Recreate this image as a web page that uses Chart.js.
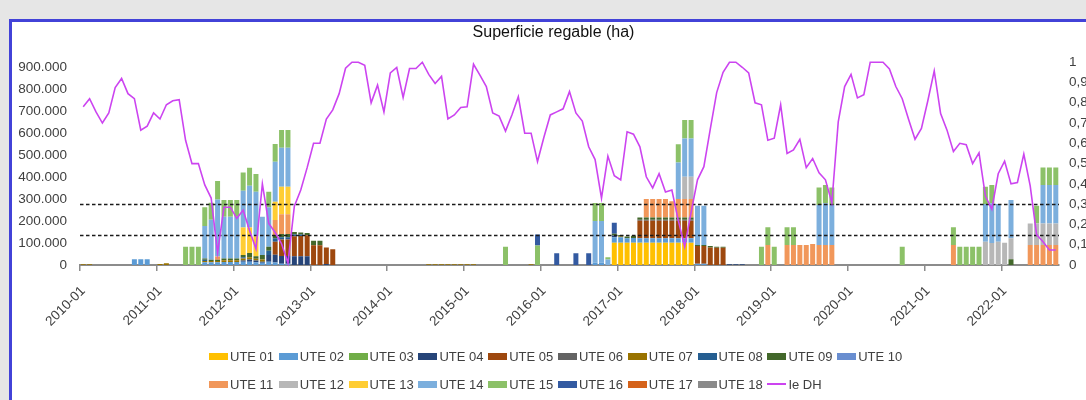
<!DOCTYPE html>
<html lang="es">
<head>
<meta charset="utf-8">
<title>Superficie regable (ha)</title>
<script src="https://cdn.jsdelivr.net/npm/chart.js@4.4.1/dist/chart.umd.min.js"></script>
<style>
  html, body { margin: 0; padding: 0; width: 1086px; height: 400px; overflow: hidden; background: #e6e6e6; font-family: "Liberation Sans", Arial, sans-serif; }
  #marco { position: absolute; left: 9px; top: 19px; width: 1120px; height: 420px; background: #fff; border-left: 3px solid #4242d8; border-top: 3px solid #4242d8; }
  #grafica { position: absolute; left: 0; top: 0; }
  #leyenda { position: absolute; left: 209px; top: 342px; width: 720px; font-size: 13px; color: #404040; }
  .fila { display: flex; height: 28px; align-items: center; }
  .item { flex: none; width: 69.8px; display: flex; align-items: center; white-space: nowrap; }
  .marca { flex: none; width: 19px; height: 7px; margin-right: 2px; }
  .marca.linea { height: 2px; }
</style>
</head>
<body>
<div id="marco"></div>
<canvas id="grafica" width="1107" height="400"></canvas>
<div id="leyenda"></div>
<script>
// Meses 2010-01 ... 2022-09
const anios = [2010, 2011, 2012, 2013, 2014, 2015, 2016, 2017, 2018, 2019, 2020, 2021, 2022];
const ultimoMes = 9;
const meses = [];
anios.forEach((a) => {
  for (let m = 1; m <= 12; m++) {
    if (a < 2022 || m <= ultimoMes) meses.push(a + "-" + String(m).padStart(2, "0"));
  }
});

// Superficie regable por UTE (miles de ha), una fila por año
const ute01 = [
  0,0,0,0,0,0,0,0,0,0,0,0, 0,0,0,0,0,0,0,0,0,0,0,0, 0,0,0,0,0,0,0,0,0,0,0,0,
  0,0,0,0,0,0,0,0,0,0,0,0, 0,0,0,0,0,0,0,0,0,0,0,0, 0,0,0,0,0,0,0,0,0,0,0,0,
  0,0,0,0,0,0,0,0,0,0,0,101,
  101,101,101,101,101,101,101,101,101,101,101,101,
  0,0,0,0,0,0,0,0,0,0,0,0, 0,0,0,0,0,0,0,0,0,0,0,0, 0,0,0,0,0,0,0,0,0,0,0,0,
  0,0,0,0,0,0,0,0,0,0,0,0, 0,0,0,0,0,0,0,0,0];
const ute02 = [
  0,0,0,0,0,0,0,0,26,26,26,0,
  0,0,0,0,0,0,0,12,12,12,14,14,
  14,15,15,12,10,15,11,6,6,0,0,0,
  0,0,0,0,0,0,0,0,0,0,0,0, 0,0,0,0,0,0,0,0,0,0,0,0, 0,0,0,0,0,0,0,0,0,0,0,0,
  0,0,0,0,0,0,0,0,10,10,0,25,
  25,20,22,20,20,20,20,20,20,20,20,20,
  6,6,0,0,0,0,0,0,0,0,0,0,
  0,0,0,0,0,0,0,0,0,0,0,0, 0,0,0,0,0,0,0,0,0,0,0,0, 0,0,0,0,0,0,0,0,0,0,0,0,
  0,0,0,0,0,0,0,0,0];
const ute03 = [
  0,0,0,0,0,0,0,0,0,0,0,0, 0,0,0,0,0,0,0,0,0,0,0,0, 0,0,0,0,0,0,0,0,0,0,0,0,
  0,0,0,0,0,0,0,0,0,0,0,0, 0,0,0,0,0,0,0,0,0,0,0,0, 0,0,0,0,0,0,0,0,0,0,0,0,
  0,0,0,0,0,0,0,0,0,0,0,0, 0,0,0,0,0,0,0,0,0,0,0,0, 0,0,0,0,0,0,0,0,0,0,0,0,
  0,0,0,0,0,0,0,0,0,0,0,0, 0,0,0,0,0,0,0,0,0,0,0,0, 0,0,0,0,0,0,0,0,0,0,0,0,
  0,0,0,0,0,0,0,0,0];
const ute04 = [
  0,0,0,0,0,0,0,0,0,0,0,0, 0,0,0,0,0,0,0,0,0,0,0,0,
  0,5,10,8,5,30,35,35,35,40,40,40,
  0,0,5,0,0,0,0,0,0,0,0,0,
  0,0,0,0,0,0,0,0,0,0,0,0, 0,0,0,0,0,0,0,0,0,0,0,0,
  0,0,0,0,0,0,0,0,0,0,0,8,
  0,0,0,0,0,0,0,0,0,0,0,0,
  0,0,0,0,0,3,3,3,0,0,0,0,
  0,0,0,0,0,0,0,0,0,0,0,0, 0,0,0,0,0,0,0,0,0,0,0,0, 0,0,0,0,0,0,0,0,0,0,0,0,
  0,0,0,0,0,0,0,0,0];
const ute05 = [
  0,0,0,0,0,0,0,0,0,0,0,0, 0,0,0,0,0,0,0,0,0,0,0,0,
  0,0,0,0,0,0,60,75,75,90,92,95,
  90,90,75,71,0,0,0,0,0,0,0,0,
  0,0,0,0,0,0,0,0,0,0,0,0, 0,0,0,0,0,0,0,0,0,0,0,0, 0,0,0,0,0,0,0,0,0,0,0,0,
  0,0,0,80,80,80,80,80,80,80,80,80,
  80,80,80,78,78,0,0,0,0,0,0,0,
  0,0,0,0,0,0,0,0,0,0,0,0, 0,0,0,0,0,0,0,0,0,0,0,0, 0,0,0,0,0,0,0,0,0,0,0,0,
  0,0,0,0,0,0,0,0,0];
const ute06 = [
  0,0,0,0,0,0,0,0,0,0,0,0, 0,0,0,0,0,0,0,0,0,0,0,0, 0,0,0,0,0,0,0,0,0,0,0,0,
  0,0,0,0,0,0,0,0,0,0,0,0, 0,0,0,0,0,0,0,0,0,0,0,0, 0,0,0,0,0,0,0,0,0,0,0,0,
  0,0,0,0,0,0,0,0,0,0,0,0,
  0,0,0,5,5,5,5,5,5,5,5,5,
  0,0,0,0,0,0,0,0,0,0,0,0, 0,0,0,0,0,0,0,0,0,0,0,0, 0,0,0,0,0,0,0,0,0,0,0,0,
  0,0,0,0,0,0,0,0,0,0,0,0, 0,0,0,0,0,0,0,0,0];
const ute07 = [
  3,3,0,0,0,0,0,0,0,0,0,0,
  4,8,0,0,0,0,0,6,6,6,8,8,
  8,10,10,8,10,0,0,0,0,0,0,0,
  0,0,0,0,0,0,0,0,0,0,0,0,
  0,0,0,0,0,0,3,3,3,3,3,3,
  3,3,0,0,0,0,0,0,0,0,3,0,
  0,0,0,0,0,0,0,0,0,0,0,0,
  3,0,0,0,0,0,0,0,0,0,0,0,
  0,0,0,0,0,0,0,0,0,0,0,0, 0,0,0,0,0,0,0,0,0,0,0,0, 0,0,0,0,0,0,0,0,0,0,0,0,
  0,0,0,0,0,0,0,0,0,0,0,0, 0,0,0,0,0,0,0,0,0];
const ute08 = [
  0,0,0,0,0,0,0,0,0,0,0,0,
  0,0,0,0,0,0,0,6,0,0,0,0,
  0,5,0,0,0,20,15,10,10,8,6,0,
  0,0,0,0,0,0,0,0,0,0,0,0, 0,0,0,0,0,0,0,0,0,0,0,0, 0,0,0,0,0,0,0,0,0,0,0,0,
  0,0,0,0,0,0,0,0,0,0,0,0, 0,0,0,0,0,0,0,0,0,0,0,0, 0,0,0,0,0,0,0,0,0,0,0,0,
  0,0,0,0,0,0,0,0,0,0,0,0, 0,0,0,0,0,0,0,0,0,0,0,0, 0,0,0,0,0,0,0,0,0,0,0,0,
  0,0,0,0,0,0,0,0,0];
const ute09 = [
  0,0,0,0,0,0,0,0,0,0,0,0,
  0,0,0,0,0,0,0,6,6,6,8,8,
  8,10,20,12,20,18,15,15,15,12,10,10,
  20,20,0,0,0,0,0,0,0,0,0,0,
  0,0,0,0,0,0,0,0,0,0,0,0, 0,0,0,0,0,0,0,0,0,0,0,0,
  0,0,0,0,0,0,0,0,0,0,0,8,
  7,8,10,10,10,10,10,10,10,10,10,10,
  5,5,6,5,5,0,0,0,0,0,0,0,
  0,0,0,0,0,0,0,0,0,0,0,0, 0,0,0,0,0,0,0,0,0,0,0,0, 0,0,0,0,0,0,0,0,0,0,0,0,
  0,26,0,0,0,0,0,0,0];
const ute10 = [
  0,0,0,0,0,0,0,0,0,0,0,0, 0,0,0,0,0,0,0,0,0,0,0,0, 0,0,0,0,0,0,0,0,0,0,0,0,
  0,0,0,0,0,0,0,0,0,0,0,0, 0,0,0,0,0,0,0,0,0,0,0,0, 0,0,0,0,0,0,0,0,0,0,0,0,
  0,0,0,0,0,0,0,0,0,0,0,0, 0,0,0,0,0,0,0,0,0,0,0,0, 0,0,0,0,0,0,0,0,0,0,0,0,
  0,0,0,0,0,0,0,0,0,0,0,0, 0,0,0,0,0,0,0,0,0,0,0,0, 0,0,0,0,0,0,0,0,0,0,0,0,
  0,0,0,0,0,0,0,0,0];
const ute11 = [
  0,0,0,0,0,0,0,0,0,0,0,0,
  0,0,0,0,0,0,0,0,0,15,0,0,
  0,0,0,0,0,0,68,89,89,0,0,0,
  0,0,0,0,0,0,0,0,0,0,0,0, 0,0,0,0,0,0,0,0,0,0,0,0, 0,0,0,0,0,0,0,0,0,0,0,0,
  0,0,0,0,0,0,0,0,0,0,0,0,
  0,0,0,0,84,84,84,84,74,84,84,84,
  0,0,0,0,0,0,0,0,0,0,0,91,
  0,0,91,91,91,91,95,91,91,91,0,0,
  0,0,0,0,0,0,0,0,0,0,0,0,
  0,0,0,0,91,0,0,0,0,0,0,0,
  0,0,0,0,91,91,91,91,91];
const ute12 = [
  0,0,0,0,0,0,0,0,0,0,0,0, 0,0,0,0,0,0,0,0,0,0,0,0, 0,0,0,0,0,0,0,0,0,0,0,0,
  0,0,0,0,0,0,0,0,0,0,0,0, 0,0,0,0,0,0,0,0,0,0,0,0, 0,0,0,0,0,0,0,0,0,0,0,0,
  0,0,0,0,0,0,0,0,0,0,0,0,
  0,0,0,0,0,0,0,0,0,0,101,101,
  0,0,0,0,0,0,0,0,0,0,0,0, 0,0,0,0,0,0,0,0,0,0,0,0, 0,0,0,0,0,0,0,0,0,0,0,0,
  0,0,0,0,0,0,0,0,0,106,100,106,
  101,95,0,0,98,98,98,98,98];
const ute13 = [
  0,0,0,0,0,0,0,0,0,0,0,0, 0,0,0,0,0,0,0,0,0,0,0,0,
  0,125,115,90,0,0,83,125,125,0,0,0,
  0,0,0,0,0,0,0,0,0,0,0,0, 0,0,0,0,0,0,0,0,0,0,0,0, 0,0,0,0,0,0,0,0,0,0,0,0,
  0,0,0,0,0,0,0,0,0,0,0,0, 0,0,0,0,0,0,0,0,0,0,0,0, 0,0,0,0,0,0,0,0,0,0,0,0,
  0,0,0,0,0,0,0,0,0,0,0,0, 0,0,0,0,0,0,0,0,0,0,0,0, 0,0,0,0,0,0,0,0,0,0,0,0,
  0,0,0,0,0,0,0,0,0];
const ute14 = [
  0,0,0,0,0,0,0,0,0,0,0,0,
  0,0,0,0,0,0,0,147,181,259,189,189,
  189,167,190,203,174,179,182,177,177,0,0,0,
  0,0,0,0,0,0,0,0,0,0,0,0, 0,0,0,0,0,0,0,0,0,0,0,0, 0,0,0,0,0,0,0,0,0,0,0,0,
  0,0,0,0,0,0,0,0,190,190,25,0,
  0,0,0,0,0,0,0,0,0,166,174,174,
  178,178,0,0,0,0,0,0,0,0,0,0,
  0,0,0,0,0,0,0,181,190,181,0,0,
  0,0,0,0,0,0,0,0,0,0,0,0,
  0,0,0,0,0,0,0,0,0,171,180,171,
  0,174,0,0,0,0,174,174,174];
const ute15 = [
  0,0,0,0,0,0,0,0,0,0,0,0,
  0,0,0,0,83,83,83,85,78,83,76,76,
  76,83,82,80,0,71,80,81,81,0,0,0,
  0,0,0,0,0,0,0,0,0,0,0,0, 0,0,0,0,0,0,0,0,0,0,0,0,
  0,0,0,0,0,0,83,0,0,0,0,88,
  0,0,0,0,0,0,0,0,82,82,10,0,
  0,0,0,0,0,0,0,0,0,82,83,83,
  0,0,0,0,0,0,0,0,0,0,83,80,
  83,0,80,80,0,0,0,80,82,80,0,0,
  0,0,0,0,0,0,0,0,83,0,0,0,
  0,0,0,0,80,83,83,83,83,78,83,0,
  0,0,0,0,0,80,80,80,80];
const ute16 = [
  0,0,0,0,0,0,0,0,0,0,0,0, 0,0,0,0,0,0,0,0,0,0,0,0, 0,0,0,0,0,0,0,0,0,0,0,0,
  0,0,0,0,0,0,0,0,0,0,0,0, 0,0,0,0,0,0,0,0,0,0,0,0,
  0,0,0,0,0,0,0,0,0,0,0,50,
  0,0,53,0,0,53,0,53,0,0,0,50,
  0,0,0,0,0,0,0,0,0,0,0,0, 0,0,0,0,0,0,0,0,0,0,0,0, 0,0,0,0,0,0,0,0,0,0,0,0,
  0,0,0,0,0,0,0,0,0,0,0,0, 0,0,0,0,0,0,0,0,0,0,0,0, 0,0,0,0,0,0,0,0,0];
const ute17 = [
  0,0,0,0,0,0,0,0,0,0,0,0, 0,0,0,0,0,0,0,0,0,0,0,0, 0,0,0,0,0,0,0,0,0,0,0,0,
  0,0,0,0,0,0,0,0,0,0,0,0, 0,0,0,0,0,0,0,0,0,0,0,0, 0,0,0,0,0,0,0,0,0,0,0,0,
  0,0,0,0,0,0,0,0,0,0,0,0, 0,0,0,0,0,0,0,0,0,0,0,0, 0,0,0,0,0,0,0,0,0,0,0,0,
  0,0,0,0,0,0,0,0,0,0,0,0, 0,0,0,0,0,0,0,0,0,0,0,0, 0,0,0,0,0,0,0,0,0,0,0,0,
  0,0,0,0,0,0,0,0,0];
const ute18 = [
  0,0,0,0,0,0,0,0,0,0,0,0, 0,0,0,0,0,0,0,0,0,0,0,0, 0,0,0,0,0,0,0,0,0,0,0,0,
  0,0,0,0,0,0,0,0,0,0,0,0, 0,0,0,0,0,0,0,0,0,0,0,0, 0,0,0,0,0,0,0,0,0,0,0,0,
  0,0,0,0,0,0,0,0,0,0,0,0, 0,0,0,0,0,0,0,0,0,0,0,0, 0,0,0,0,0,0,0,0,0,0,0,0,
  0,0,0,0,0,0,0,0,0,0,0,0, 0,0,0,0,0,0,0,0,0,0,0,0, 0,0,0,0,0,0,0,0,0,0,0,0,
  0,0,0,0,0,0,0,0,0];

// Indice de estado de la DH (eje derecho)
const ieDH = [
  0.78, 0.82, 0.755, 0.70, 0.75, 0.875, 0.92, 0.845, 0.82, 0.665, 0.685, 0.75,
  0.72, 0.79, 0.81, 0.815, 0.615, 0.50, 0.50, 0.395, 0.33, 0.06, 0.285, 0.285,
  0.23, 0.27, 0.17, 0.08, 0.40, 0.205, 0.16, 0.105, 0.01, 0.29, 0.37, 0.48,
  0.60, 0.60, 0.72, 0.765, 0.845, 0.97, 1.0, 1.0, 0.985, 0.80, 0.887, 0.755,
  0.947, 0.974, 0.826, 0.969, 0.969, 1.0, 0.94, 0.895, 0.93, 0.72, 0.74, 0.777,
  0.78, 0.99, 0.936, 0.88, 0.75, 0.734, 0.66, 0.74, 0.83, 0.65, 0.65, 0.51,
  0.63, 0.74, 0.755, 0.77, 0.855, 0.75, 0.71, 0.583, 0.52, 0.33, 0.537, 0.44,
  0.42, 0.657, 0.645, 0.583, 0.435, 0.38, 0.45, 0.36, 0.37, 0.22, 0.09, 0.26,
  0.42, 0.485, 0.67, 0.85, 0.95, 1.0, 1.0, 0.975, 0.947, 0.80, 0.79, 0.615,
  0.625, 0.79, 0.55, 0.567, 0.62, 0.48, 0.525, 0.455, 0.42, 0.307, 0.706, 0.88,
  0.94, 0.824, 0.84, 1.0, 1.0, 1.0, 0.967, 0.88, 0.82, 0.717, 0.62, 0.673,
  0.81, 0.957, 0.747, 0.665, 0.56, 0.60, 0.593, 0.50, 0.553, 0.34, 0.275, 0.45,
  0.512, 0.40, 0.407, 0.547, 0.39, 0.15, 0.115, 0.074, 0.074];

// Umbrales (lineas discontinuas, eje derecho)
const umbrales = [0.3, 0.15];

// Marcas de los ejes
const ticksIzq = [0, 100000, 200000, 300000, 400000, 500000, 600000, 700000, 800000, 900000];
const ticksDer = [0, 0.1, 0.2, 0.3, 0.4, 0.5, 0.6, 0.7, 0.8, 0.9, 1];

const nombres = ["UTE 01", "UTE 02", "UTE 03", "UTE 04", "UTE 05", "UTE 06", "UTE 07", "UTE 08", "UTE 09",
  "UTE 10", "UTE 11", "UTE 12", "UTE 13", "UTE 14", "UTE 15", "UTE 16", "UTE 17", "UTE 18"];
const colores = ["#ffc000", "#5b9bd5", "#70ad47", "#264478", "#9e480e", "#636363", "#997300", "#255e91", "#43682b",
  "#698ed0", "#f1975a", "#b7b7b7", "#ffcd33", "#7cafdd", "#8cc168", "#335aa1", "#d5621a", "#8a8a8a"];
const series = [ute01, ute02, ute03, ute04, ute05, ute06, ute07, ute08, ute09,
  ute10, ute11, ute12, ute13, ute14, ute15, ute16, ute17, ute18];
const nombreIe = "Ie DH";
const colorIe = "#cc44f0";

Chart.defaults.font.family = '"Liberation Sans", Arial, sans-serif';
Chart.defaults.color = "#404040";

// Formato español: 900.000 y 0,3
function formatoMiles(v) {
  return String(Math.round(v)).replace(/\B(?=(\d{3})+(?!\d))/g, ".");
}
function formatoDecimal(v) {
  return String(Math.round(v * 10) / 10).replace(".", ",");
}

// Lineas de umbral, dibujadas sobre las barras y debajo de la linea Ie DH
const lineasUmbral = {
  id: "lineasUmbral",
  beforeDatasetDraw(chart, args) {
    if (args.meta.type !== "line") return;
    const { ctx, chartArea, scales } = chart;
    ctx.save();
    ctx.strokeStyle = "#1a1a1a";
    ctx.lineWidth = 1.3;
    ctx.setLineDash([3.5, 2.5]);
    umbrales.forEach((u) => {
      const y = Math.round(scales.y1.getPixelForValue(u)) + 0.5;
      ctx.beginPath();
      ctx.moveTo(chartArea.left, y);
      ctx.lineTo(chartArea.right, y);
      ctx.stroke();
    });
    ctx.restore();
  },
};

const datasets = series.map((valores, i) => ({
  type: "bar",
  label: nombres[i],
  data: valores.map((v) => v * 1000),
  backgroundColor: colores[i],
  borderWidth: 0,
  yAxisID: "y",
  barPercentage: 0.78,
  categoryPercentage: 1,
  order: 1,
}));

datasets.unshift({
  type: "line",
  label: nombreIe,
  data: ieDH,
  yAxisID: "y1",
  borderColor: colorIe,
  borderWidth: 1.6,
  pointRadius: 0,
  tension: 0,
  fill: false,
  clip: 4,
  order: 0,
});

new Chart(document.getElementById("grafica"), {
  type: "bar",
  data: { labels: meses, datasets: datasets },
  options: {
    responsive: false,
    animation: false,
    layout: { padding: { left: 0, right: 0, top: 0, bottom: 65 } },
    plugins: {
      legend: { display: false },
      tooltip: { enabled: false },
      title: {
        display: true,
        text: "Superficie regable (ha)",
        color: "#111",
        font: { size: 16, weight: "normal" },
        padding: { top: 23, bottom: 20 },
      },
    },
    scales: {
      x: {
        stacked: true,
        border: { display: true, color: "#8c8c8c", width: 2 },
        grid: {
          offset: true,
          drawOnChartArea: false,
          drawTicks: true,
          tickLength: 6,
          lineWidth: 1.5,
          color: (c) => (c.tick && c.tick.label ? "#8c8c8c" : "rgba(0,0,0,0)"),
        },
        ticks: {
          autoSkip: false,
          maxRotation: 45,
          minRotation: 45,
          padding: 12,
          font: { size: 13.5 },
          callback: function (value) {
            const l = this.getLabelForValue(value);
            return l.endsWith("-01") ? l : "";
          },
        },
        afterFit: (s) => { s.height = 70; },
      },
      y: {
        stacked: true,
        position: "left",
        min: 0,
        max: 921000,
        border: { display: false },
        grid: { display: false, drawTicks: false },
        ticks: {
          padding: 13,
          font: { size: 13.5 },
          callback: (v) => formatoMiles(v),
        },
        afterBuildTicks: (s) => { s.ticks = ticksIzq.map((v) => ({ value: v })); },
        afterFit: (s) => { s.width = 80; },
      },
      y1: {
        position: "right",
        min: 0,
        max: 1,
        border: { display: false },
        grid: { display: false, drawTicks: false },
        ticks: {
          padding: 10,
          font: { size: 13.5 },
          callback: (v) => formatoDecimal(v),
        },
        afterBuildTicks: (s) => { s.ticks = ticksDer.map((v) => ({ value: v })); },
        afterFit: (s) => { s.width = 48; },
      },
    },
  },
  plugins: [lineasUmbral],
});

// Leyenda en dos filas (10 + 9 elementos)
function crearLeyenda() {
  const cont = document.getElementById("leyenda");
  const items = nombres.map((n, i) => ({ nombre: n, color: colores[i], linea: false }));
  items.push({ nombre: nombreIe, color: colorIe, linea: true });
  [items.slice(0, 10), items.slice(10)].forEach((filaItems) => {
    const fila = document.createElement("div");
    fila.className = "fila";
    filaItems.forEach((it) => {
      const item = document.createElement("div");
      item.className = "item";
      const marca = document.createElement("span");
      marca.className = it.linea ? "marca linea" : "marca";
      marca.style.background = it.color;
      const texto = document.createElement("span");
      texto.textContent = it.nombre;
      item.appendChild(marca);
      item.appendChild(texto);
      fila.appendChild(item);
    });
    cont.appendChild(fila);
  });
}
crearLeyenda();
</script>
</body>
</html>
